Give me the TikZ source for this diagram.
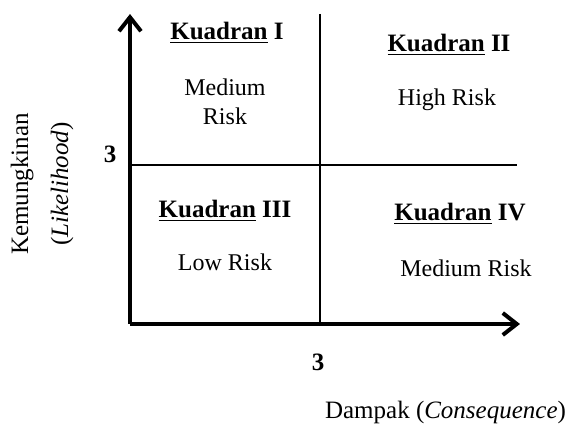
\documentclass[tikz,border=0pt]{standalone}
\usepackage{fontspec}
\setmainfont{Liberation Serif}
\usetikzlibrary{arrows.meta}
\tikzset{
  axis/.style={line width=2pt, -{Straight Barb[length=7pt,width=11pt,line width=2pt]}},
  divider/.style={line width=0.8pt},
  quadtitle/.style={font=\fontsize{12.5}{14}\selectfont\bfseries},
  risklabel/.style={font=\fontsize{12}{14.5}\selectfont, align=center},
  axislabel/.style={font=\fontsize{12.5}{20}\selectfont, align=center}
}
\begin{document}
\begin{tikzpicture}[x=0.5pt, y=-0.5pt]
    \useasboundingbox (0,0) rectangle (575,428);

    % Axes
    \coordinate (origin) at (130,324);
    \coordinate (ytip) at (130,14);
    \coordinate (xtip) at (520,324);
    \draw[axis] (origin) -- (ytip);
    \draw[axis] (origin) -- (xtip);

    % Quadrant dividers
    \coordinate (vtop) at (320,14);
    \coordinate (vbot) at (320,324);
    \coordinate (hleft) at (130,165);
    \coordinate (hright) at (517,165);
    \draw[divider] (vtop) -- (vbot);
    \draw[divider] (hleft) -- (hright);

    % Threshold values
    \node[quadtitle] (ythree) at (110,154) {3};
    \node[quadtitle] (xthree) at (318,362) {3};

    % Quadrants
    \node[quadtitle] (q1) at (227,33) {\underline{Kuadran} I};
    \node[risklabel] (r1) at (225,102) {Medium\\Risk};
    \node[quadtitle] (q2) at (449,45) {\underline{Kuadran} II};
    \node[risklabel] (r2) at (447,100) {High Risk};
    \node[quadtitle] (q3) at (225,211) {\underline{Kuadran} III};
    \node[risklabel] (r3) at (225,262) {Low Risk};
    \node[quadtitle] (q4) at (460,214) {\underline{Kuadran} IV};
    \node[risklabel] (r4) at (466,268) {Medium Risk};

    % Axis labels
    \node[axislabel, rotate=90] (ylabel) at (42,184) {Kemungkinan\\(\textit{Likelihood})};
    \node[axislabel, anchor=east] (xlabel) at (573,412) {Dampak (\textit{Consequence})};
  \end{tikzpicture}
\end{document}
